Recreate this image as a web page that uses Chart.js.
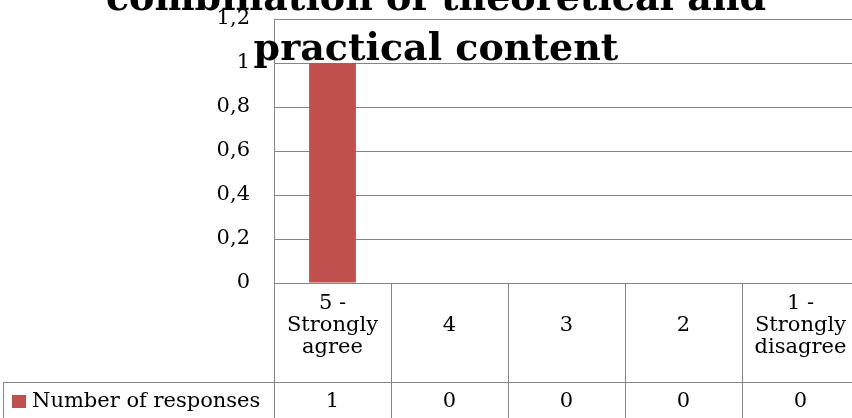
<!DOCTYPE html>
<html>
<head>
<meta charset="utf-8">
<script src="https://cdn.jsdelivr.net/npm/chart.js@4"></script>
<style>
  html, body { margin: 0; padding: 0; background: #fff; overflow: hidden; }
  #wrap { width: 860px; height: 418px; }
</style>
</head>
<body>
<div id="wrap"><canvas id="chart" width="860" height="418"></canvas></div>
<script>
// donnees du graphique
const categories = [['5 -', 'Strongly', 'agree'], ['4'], ['3'], ['2'], ['1 -', 'Strongly', 'disagree']];
const responses = [1, 0, 0, 0, 0];
const seriesName = 'Number of responses';
const titleLines = ['combination of theoretical and', 'practical content'];
const yMin = 0;
const yMax = 1.2;
const yStep = 0.2;

const gridColor = '#858585';
const barColor = '#C0504D';
const serif = '"DejaVu Serif", serif';

// tableau de donnees + titre dessines a la main
const tablePlugin = {
    id: 'dataTable',
    afterDraw(chart) {
        const ctx = chart.ctx;
        const area = chart.chartArea;
        const x = chart.scales.x;
        const top = area.bottom;
        const rowY = 382;
        const bottom = 418;
        const half = (x.getPixelForValue(1) - x.getPixelForValue(0)) / 2;

        ctx.save();
        ctx.strokeStyle = gridColor;
        ctx.lineWidth = 1;
        ctx.beginPath();
        // lignes horizontales
        ctx.moveTo(3, rowY + 0.5);
        ctx.lineTo(area.right, rowY + 0.5);
        ctx.moveTo(3.5, rowY);
        ctx.lineTo(3.5, bottom);
        // lignes verticales
        for (let i = 0; i <= categories.length; i++) {
            let px = Math.round(x.getPixelForValue(i) - half) + 0.5;
            ctx.moveTo(px, top);
            ctx.lineTo(px, bottom);
        }
        ctx.stroke();

        // textes des categories et valeurs
        ctx.fillStyle = '#000';
        ctx.font = '21px ' + serif;
        ctx.textAlign = 'center';
        ctx.textBaseline = 'middle';
        const lineH = 22;
        categories.forEach((lines, i) => {
            let cx = x.getPixelForValue(i);
            let cy = 326 - (lines.length - 1) * lineH / 2;
            lines.forEach((l, j) => ctx.fillText(l, cx, cy + j * lineH));
            ctx.fillText(String(responses[i]), cx, 402);
        });

        // legende de la serie
        ctx.fillStyle = barColor;
        ctx.fillRect(12, 395, 14, 13);
        ctx.fillStyle = '#000';
        ctx.textAlign = 'left';
        ctx.fillText(seriesName, 32, 402);

        // titre
        ctx.font = 'bold 38px ' + serif;
        ctx.textAlign = 'center';
        ctx.textBaseline = 'alphabetic';
        ctx.fillText(titleLines[0], 436, 10);
        ctx.fillText(titleLines[1], 436, 60);
        ctx.restore();
    }
};

const ctx = document.getElementById('chart').getContext('2d');
const config = {
    type: 'bar',
    data: {
        labels: categories,
        datasets: [{
            label: seriesName,
            data: responses,
            backgroundColor: barColor,
            categoryPercentage: 1,
            barPercentage: 0.4
        }]
    },
    options: {
        responsive: false,
        animation: false,
        layout: { padding: { top: 19, right: 1, bottom: 135, left: 0 } },
        plugins: {
            legend: { display: false },
            title: { display: false },
            tooltip: { enabled: false }
        },
        scales: {
            x: { display: false },
            y: {
                min: yMin,
                max: yMax,
                afterFit: function (scale) {
                    scale.width = 274;
                    scale.paddingTop = 0;
                    scale.paddingBottom = 0;
                },
                ticks: {
                    stepSize: yStep,
                    padding: 24,
                    color: '#000',
                    font: { family: serif, size: 21 },
                    callback: function (v) { return String(Math.round(v * 10) / 10).replace('.', ','); }
                },
                grid: { color: gridColor, drawTicks: false },
                border: { color: gridColor }
            }
        }
    },
    plugins: [tablePlugin]
};
const chart = new Chart(ctx, config);
</script>
</body>
</html>
